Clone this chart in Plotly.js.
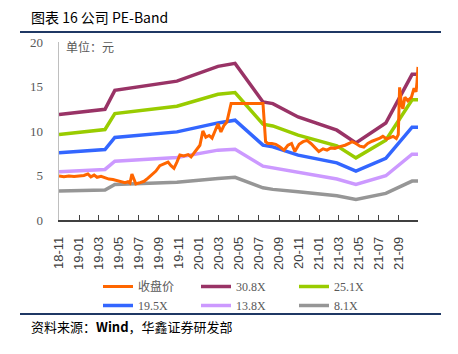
<!DOCTYPE html>
<html><head><meta charset="utf-8">
<script src="https://cdn.plot.ly/plotly-3.0.1.min.js"></script>
<style>html,body{margin:0;padding:0;background:#fff}#c{width:458px;height:354px}</style>
</head><body><div id="c"></div>
<script>
// Band breakpoints (dates) and values
const bandDates = ['2018-11-01','2019-03-21','2019-04-20','2019-10-26','2020-02-28','2020-04-20','2020-07-14','2020-08-13','2020-10-29','2021-02-24','2021-04-23','2021-07-23','2021-10-11','2021-10-29'];
const pe308 = [11.85,12.44,14.57,15.6,17.26,17.6,13.26,13.08,11.58,10.09,8.67,10.9,16.37,16.37];
const pe251 = [9.61,10.17,11.96,12.78,14.13,14.32,10.76,10.57,9.53,8.33,6.98,8.97,13.5,13.5];
const pe195 = [7.55,7.92,9.27,9.9,10.91,11.21,8.41,8.22,7.29,6.42,5.49,6.92,10.43,10.43];
const pe138 = [5.42,5.68,6.61,7.03,7.85,7.96,6.05,5.86,5.3,4.6,4.0,4.97,7.4,7.4];
const pe81  = [3.25,3.36,4.0,4.23,4.67,4.79,3.62,3.44,3.17,2.72,2.32,2.99,4.37,4.37];

// Closing price
const priceDates = ['2018-11-01','2018-11-16','2018-12-01','2018-12-17','2019-01-01','2019-01-16','2019-01-28','2019-02-06','2019-02-16','2019-02-25',
'2019-03-09','2019-03-21','2019-04-02','2019-04-14','2019-04-27','2019-05-09','2019-05-21','2019-05-30','2019-06-05','2019-06-11',
'2019-06-17','2019-06-23','2019-07-06','2019-07-18','2019-07-30','2019-08-11','2019-08-23','2019-09-04','2019-09-17','2019-09-29',
'2019-10-08','2019-10-17','2019-10-26','2019-11-04','2019-11-16','2019-11-29','2019-12-08','2019-12-17','2019-12-26','2020-01-04',
'2020-01-13','2020-01-22','2020-02-01','2020-02-10','2020-02-19','2020-02-28','2020-03-08','2020-03-17','2020-03-26','2020-04-01',
'2020-04-08','2020-05-20','2020-07-14','2020-07-22','2020-07-29','2020-08-10','2020-08-22','2020-09-04','2020-09-16','2020-09-28',
'2020-10-09','2020-10-19','2020-11-01','2020-11-13','2020-11-25','2020-12-07','2020-12-19','2020-12-31','2021-01-13','2021-01-25',
'2021-02-06','2021-02-18','2021-03-05','2021-03-21','2021-04-02','2021-04-11','2021-04-23','2021-05-05','2021-05-17','2021-05-29',
'2021-06-11','2021-06-23','2021-07-05','2021-07-14','2021-07-26','2021-08-05','2021-08-14','2021-08-24','2021-08-30','2021-09-03',
'2021-09-09','2021-09-13','2021-09-19','2021-09-28','2021-10-09','2021-10-17','2021-10-23','2021-10-26','2021-10-29'];
const price = [4.95,4.85,4.95,4.88,4.95,5.0,5.18,4.85,5.05,4.8,
4.9,4.75,4.6,4.55,4.4,4.35,4.2,4.3,4.15,5.15,
4.5,4.05,4.2,4.35,4.7,5.05,5.5,6.1,6.3,6.5,
6.1,5.8,6.5,7.3,7.2,7.35,7.1,7.55,7.9,8.4,
10.0,9.3,9.5,9.2,10.0,10.8,9.9,10.6,11.0,12.0,
13.1,13.1,13.1,8.8,8.6,8.6,8.5,8.2,7.85,8.4,
8.6,7.7,8.5,8.8,8.95,8.6,8.2,7.7,8.0,7.85,
8.1,8.05,8.25,8.4,8.6,8.8,8.6,8.3,8.2,8.6,
8.85,9.0,9.2,9.4,9.1,9.25,9.4,9.15,9.6,14.9,
12.9,12.5,13.8,13.4,13.8,14.8,14.4,15.5,17.2];

const names = ['收盘价','30.8X','25.1X','19.5X','13.8X','8.1X'];
const colors = ['#FF6600','#993366','#99CC00','#3366FF','#CC99FF','#969696'];

const bands = [pe308,pe251,pe195,pe138,pe81];
const traces = [];
bands.forEach((b,i)=>{
  traces.push({x:bandDates,y:b,type:'scatter',mode:'lines',name:names[i+1],legendrank:i+2,
    line:{color:colors[i+1],width:3.5},hoverinfo:'skip'});
});
traces.push({x:priceDates,y:price,type:'scatter',mode:'lines',name:names[0],legendrank:1,
  line:{color:colors[0],width:3},hoverinfo:'skip'});

const W=458,H=354,L=59,R=40,T=42,B=134;
const pw=W-L-R, ph=H-T-B;
const px=(x)=>(x-L)/pw, py=(y)=>(H-B-y)/ph;

const layout = {
  width:W,height:H,
  margin:{l:L,r:R,t:T,b:B,pad:0},
  paper_bgcolor:'#fff',plot_bgcolor:'#fff',
  showlegend:true,
  xaxis:{type:'date',range:['2018-11-01','2021-10-29'],dtick:'M2',tick0:'2018-11-01',tickformat:'%y-%m',
    tickangle:-90,ticks:'inside',ticklen:5,tickcolor:'#404040',tickwidth:1,
    showline:true,linecolor:'#404040',linewidth:1.5,showgrid:false,zeroline:false,
    tickfont:{family:'Liberation Sans, Arial, sans-serif',size:13,color:'#404040'},ticklabelstandoff:10},
  yaxis:{range:[0,20],tickvals:[0,5,10,15,20],ticks:'',showline:true,linecolor:'#BFBFBF',linewidth:1.5,
    showgrid:false,zeroline:false,
    tickfont:{family:'Liberation Serif, Times New Roman, serif',size:13,color:'#595959'},ticklabelstandoff:12},
  legend:{orientation:'h',x:px(98),xanchor:'left',y:py(272),yanchor:'top',
    entrywidth:53,entrywidthmode:'pixels',traceorder:'normal',
    font:{family:'Liberation Serif, Noto Sans CJK SC, serif',size:12,color:'#595959'},
    itemwidth:30,tracegroupgap:0,bgcolor:'rgba(0,0,0,0)'},
  shapes:[
    {type:'line',xref:'paper',yref:'paper',x0:px(20),x1:px(441),y0:py(32),y1:py(32),line:{color:'#1F3864',width:2}},
    {type:'line',xref:'paper',yref:'paper',x0:px(20),x1:px(441),y0:py(314),y1:py(314),line:{color:'#1F3864',width:2}}
  ],
  annotations:[
    {xref:'paper',yref:'paper',x:px(29),y:py(17),xanchor:'left',yanchor:'middle',showarrow:false,
     text:'图表 16 公司 PE-Band',font:{family:'Noto Sans CJK SC, sans-serif',size:14,color:'#000'}},
    {xref:'paper',yref:'paper',x:px(64),y:py(46),xanchor:'left',yanchor:'middle',showarrow:false,
     text:'单位：元',font:{family:'Noto Sans CJK SC, sans-serif',size:12,color:'#595959'}},
    {xref:'paper',yref:'paper',x:px(29),y:py(326),xanchor:'left',yanchor:'middle',showarrow:false,
     text:'资料来源：<b>Wind</b>，华鑫证券研发部',font:{family:'Noto Sans CJK SC, sans-serif',size:13,color:'#000'}}
  ]
};
Plotly.newPlot('c',traces,layout,{staticPlot:true,displayModeBar:false});
</script></body></html>
